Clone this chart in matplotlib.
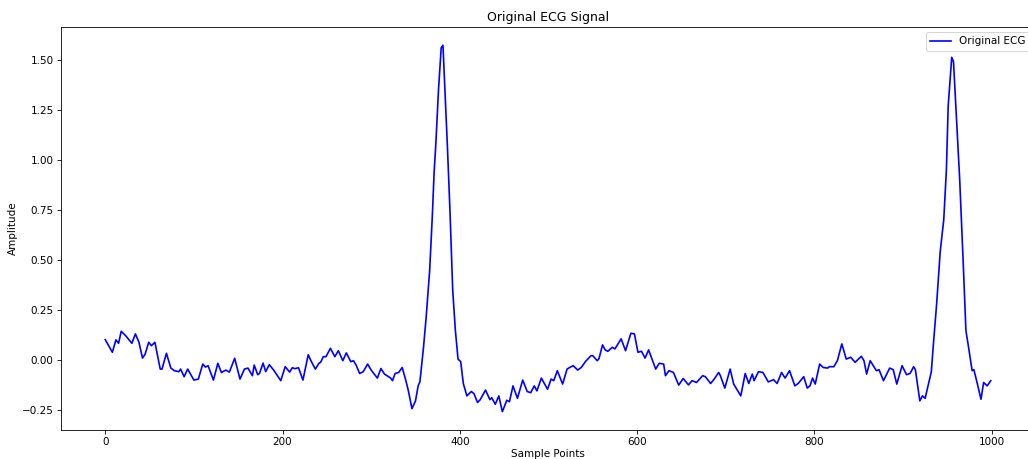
import matplotlib
matplotlib.use("Agg")
import matplotlib.pyplot as plt
import numpy as np

# sample positions and amplitudes
sample_idx = [
    0, 8, 12, 15, 18, 23, 30, 34, 38, 42, 45, 49, 52, 56, 62, 64, 69, 74, 78, 83,
    85, 89, 93, 100, 105, 110, 113, 116, 122, 127, 131, 136, 140, 146, 152, 157,
    161, 166, 168, 172, 174, 178, 181, 185, 190, 198, 203, 208, 211, 214, 218,
    223, 229, 232, 237, 241, 243, 246, 249, 254, 259, 263, 268, 272, 277, 280,
    283, 287, 291, 296, 300, 307, 311, 315, 322, 324, 327, 331, 335, 339, 342,
    346, 350, 353, 355, 359, 362, 366, 369, 371, 373, 376, 379, 381, 383, 386,
    389, 392, 395, 398, 401, 404, 408, 413, 416, 420, 423, 429, 434, 436, 440,
    444, 448, 453, 456, 460, 465, 471, 476, 480, 484, 487, 492, 499, 503, 506,
    510, 516, 521, 524, 528, 533, 537, 542, 548, 550, 555, 557, 561, 564, 567,
    572, 575, 582, 587, 593, 597, 601, 605, 609, 613, 621, 625, 630, 632, 636,
    641, 647, 652, 658, 662, 667, 674, 677, 683, 687, 692, 694, 699, 705, 709,
    717, 722, 726, 730, 732, 737, 742, 748, 754, 758, 763, 767, 772, 778, 782,
    788, 792, 795, 798, 801, 806, 810, 815, 817, 822, 826, 831, 836, 841, 846,
    853, 856, 859, 863, 870, 873, 878, 885, 889, 893, 899, 904, 908, 912, 914,
    919, 922, 925, 932, 934, 938, 942, 946, 949, 951, 955, 957, 960, 964, 968,
    971, 974, 978, 980, 984, 988, 991, 995, 999,
]
amplitude = [
    0.100, 0.037, 0.099, 0.082, 0.142, 0.120, 0.082, 0.129, 0.087, 0.008, 0.028,
    0.087, 0.070, 0.087, -0.047, -0.047, 0.032, -0.042, -0.055, -0.060, -0.047,
    -0.085, -0.047, -0.102, -0.097, -0.022, -0.037, -0.030, -0.102, -0.018,
    -0.064, -0.052, -0.062, 0.007, -0.097, -0.047, -0.042, -0.080, -0.027,
    -0.075, -0.069, -0.017, -0.060, -0.025, -0.052, -0.105, -0.035, -0.062,
    -0.040, -0.045, -0.040, -0.102, 0.025, -0.005, -0.047, -0.018, -0.013,
    0.015, 0.015, 0.057, 0.015, 0.045, -0.005, 0.034, -0.010, -0.005, -0.027,
    -0.069, -0.060, -0.022, -0.052, -0.092, -0.044, -0.072, -0.092, -0.105,
    -0.069, -0.064, -0.039, -0.102, -0.156, -0.245, -0.206, -0.131, -0.110,
    0.060, 0.210, 0.447, 0.720, 0.934, 1.084, 1.352, 1.560, 1.572, 1.369, 1.067,
    0.733, 0.347, 0.146, 0.003, -0.010, -0.120, -0.181, -0.159, -0.170, -0.214,
    -0.200, -0.152, -0.200, -0.190, -0.223, -0.181, -0.260, -0.203, -0.210,
    -0.131, -0.193, -0.102, -0.159, -0.165, -0.131, -0.156, -0.092, -0.148,
    -0.097, -0.105, -0.055, -0.122, -0.047, -0.039, -0.030, -0.052, -0.039,
    -0.008, 0.020, 0.020, -0.005, 0.005, 0.074, 0.049, 0.042, 0.062, 0.054,
    0.104, 0.045, 0.132, 0.129, 0.037, 0.042, 0.008, 0.049, -0.047, -0.018,
    -0.022, -0.080, -0.055, -0.064, -0.127, -0.094, -0.126, -0.105, -0.114,
    -0.080, -0.085, -0.119, -0.097, -0.064, -0.080, -0.142, -0.047, -0.122,
    -0.181, -0.069, -0.119, -0.072, -0.105, -0.060, -0.064, -0.111, -0.100,
    -0.119, -0.064, -0.092, -0.055, -0.131, -0.118, -0.085, -0.142, -0.131,
    -0.092, -0.122, -0.022, -0.039, -0.042, -0.035, -0.035, -0.005, 0.079,
    0.003, 0.012, -0.013, 0.017, -0.005, -0.072, -0.005, -0.055, -0.050,
    -0.105, -0.042, -0.050, -0.122, -0.030, -0.075, -0.069, -0.035, -0.050,
    -0.206, -0.181, -0.193, -0.060, 0.060, 0.280, 0.540, 0.700, 0.950, 1.268,
    1.512, 1.490, 1.235, 0.900, 0.481, 0.146, 0.062, -0.055, -0.050, -0.122,
    -0.198, -0.114, -0.131, -0.105,
]

W, H, DPI = 1028, 459, 75
fig = plt.figure(figsize=(W / DPI, H / DPI), dpi=DPI)
# axes run a little past the right edge, as in the cropped reference
ax = fig.add_axes([61 / W, 29 / H, (1035 - 61) / W, (430 - 27) / H])

ax.plot(sample_idx, amplitude, color='blue', linewidth=1.6, label='Original ECG')
ax.set_title('Original ECG Signal')
ax.set_xlabel('Sample Points', labelpad=1.5)
ax.set_ylabel('Amplitude')
ax.legend(loc='upper right')

fig.savefig('out.png', dpi=DPI)
